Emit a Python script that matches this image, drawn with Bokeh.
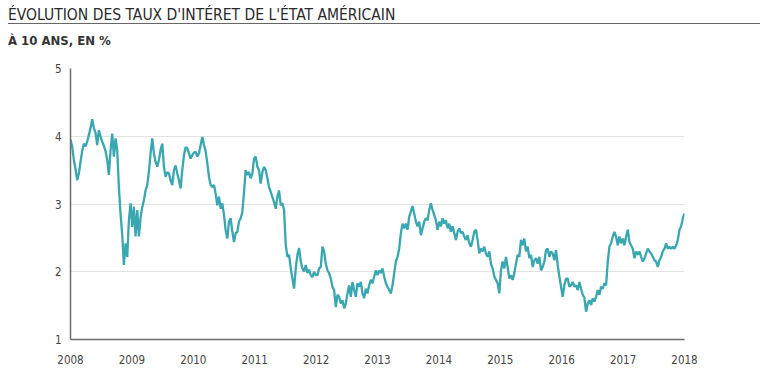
import numpy as np
from bokeh.plotting import figure
from bokeh.models import Range1d, FixedTicker, Div
from bokeh.layouts import column
from bokeh.embed import file_html
from bokeh.resources import INLINE

title_text = "ÉVOLUTION DES TAUX D'INTÉRET DE L'ÉTAT AMÉRICAIN"
subtitle_text = "À 10 ANS, EN %"

year_ticks = [2008, 2009, 2010, 2011, 2012, 2013, 2014, 2015, 2016, 2017, 2018]
year_labels = ["2008", "2009", "2010", "2011", "2012", "2013", "2014", "2015", "2016", "2017", "2018"]
rate_ticks = [1, 2, 3, 4, 5]
rate_labels = ["1", "2", "3", "4", "5"]

# 10-year US Treasury yield (regular ~10-day sampling)
rates_2008_2009 = [
    3.95, 3.85, 3.65, 3.52, 3.35, 3.45, 3.62, 3.78, 3.89, 3.85, 3.92, 4.02, 4.12, 4.25, 4.12, 4.05,
    3.87, 4.09, 4.00, 3.92, 3.86, 3.78, 3.65, 3.43, 3.79, 4.04, 3.70, 3.97, 3.79, 3.25, 2.85, 2.55,
    2.10, 2.42, 2.22, 2.76, 3.01, 2.66, 2.96, 2.52, 2.91, 2.52, 2.80, 2.95, 3.06, 3.20, 3.28, 3.48,
    3.75, 3.97, 3.75, 3.62, 3.55, 3.65, 3.80, 3.89, 3.55, 3.40, 3.47, 3.45, 3.35, 3.28, 3.50, 3.57,
    3.45, 3.35, 3.23, 3.50, 3.72, 3.84, 3.82, 3.75, 3.67, 3.72, 3.76, 3.77,
]
rates_2010_2011 = [
    3.70, 3.75, 3.87, 3.99, 3.87, 3.78, 3.60, 3.40, 3.28, 3.25, 3.28, 3.15, 2.98, 3.11, 2.93, 3.01,
    2.84, 2.61, 2.49, 2.74, 2.79, 2.59, 2.44, 2.57, 2.59, 2.74, 2.79, 2.88, 3.18, 3.50, 3.43, 3.47,
    3.38, 3.45, 3.67, 3.70, 3.55, 3.50, 3.30, 3.47, 3.55, 3.50, 3.38, 3.25, 3.18, 3.10, 3.03, 2.93,
    3.11, 3.20, 2.98, 3.01, 2.91, 2.40, 2.22, 2.25, 2.05, 1.90, 1.75, 2.05, 2.25, 2.35, 2.15, 2.05,
    2.00, 2.10, 1.98, 2.03, 1.95, 1.92, 2.00, 1.95,
]
rates_2012_2013 = [
    1.95, 2.05, 2.07, 2.37, 2.30, 2.12, 2.02, 1.98, 1.90, 1.78, 1.73, 1.48, 1.66, 1.63, 1.53, 1.58,
    1.46, 1.53, 1.68, 1.80, 1.63, 1.85, 1.73, 1.63, 1.83, 1.78, 1.85, 1.68, 1.61, 1.75, 1.68, 1.80,
    1.88, 1.83, 1.93, 2.02, 1.95, 2.02, 1.98, 2.05, 1.93, 1.83, 1.78, 1.73, 1.68, 1.80, 1.98, 2.15,
    2.22, 2.34, 2.57, 2.71, 2.64, 2.71, 2.62, 2.81, 2.89, 2.97, 2.86, 2.74, 2.67, 2.74, 2.54, 2.64,
    2.74, 2.79, 2.76, 2.91, 3.01, 2.91, 2.84, 2.76,
]
rates_2014_2015 = [
    2.62, 2.74, 2.67, 2.79, 2.71, 2.76, 2.64, 2.71, 2.59, 2.67, 2.57, 2.47, 2.59, 2.64, 2.57, 2.59,
    2.52, 2.47, 2.54, 2.42, 2.37, 2.47, 2.59, 2.62, 2.47, 2.27, 2.34, 2.30, 2.37, 2.27, 2.22, 2.30,
    2.12, 2.05, 1.93, 1.88, 1.83, 1.68, 2.02, 2.15, 2.05, 2.22, 2.07, 1.90, 1.95, 1.88, 1.98, 2.12,
    2.25, 2.22, 2.47, 2.39, 2.49, 2.30, 2.37, 2.20, 2.25, 2.07, 2.17, 2.20, 2.12, 2.22, 2.02, 2.07,
    2.15, 2.32, 2.34, 2.22, 2.30, 2.27, 2.17, 2.32,
]
rates_2016_2017 = [
    2.10, 1.93, 1.78, 1.63, 1.80, 1.90, 1.90, 1.78, 1.80, 1.85, 1.78, 1.80, 1.73, 1.85, 1.75, 1.66,
    1.62, 1.41, 1.53, 1.58, 1.51, 1.61, 1.56, 1.63, 1.73, 1.66, 1.78, 1.75, 1.83, 1.80, 2.15, 2.37,
    2.42, 2.52, 2.59, 2.52, 2.39, 2.52, 2.42, 2.49, 2.39, 2.52, 2.62, 2.44, 2.39, 2.34, 2.20, 2.30,
    2.25, 2.30, 2.22, 2.15, 2.20, 2.27, 2.34, 2.30, 2.27, 2.22, 2.17, 2.15, 2.07, 2.17, 2.22, 2.30,
    2.34, 2.42, 2.34, 2.37, 2.34, 2.37, 2.34, 2.39, 2.47, 2.62, 2.67, 2.79, 2.86,
]

rates = rates_2008_2009 + rates_2010_2011 + rates_2012_2013 + rates_2014_2015 + rates_2016_2017
dates = np.linspace(2008.0, 2018.0, len(rates))

TEXT = "#333333"
COND = "DejaVu Sans Condensed"

title_div = Div(
    text=f'<div style="font-family:\'{COND}\', \'DejaVu Sans\'; font-stretch:condensed; font-size:15.5px; '
         f'line-height:15px; color:#2a2a2a; height:16px; width:752px; border-bottom:1px solid #666; '
         f'white-space:nowrap;">{title_text}</div>',
    width=752, height=17, margin=(8, 0, 0, 8),
)
subtitle_div = Div(
    text=f'<div style="font-family:\'{COND}\', \'DejaVu Sans\'; font-stretch:condensed; font-size:13px; '
         f'font-weight:bold; line-height:13px; color:{TEXT}; margin-top:9px; white-space:nowrap;">'
         f'{subtitle_text}</div>',
    width=752, height=30, margin=(0, 0, 0, 8),
)

p = figure(
    frame_width=614, frame_height=271,
    min_border_left=62, min_border_right=70, min_border_top=13, min_border_bottom=30,
    x_range=Range1d(2008, 2018), y_range=Range1d(1, 5),
    output_backend="svg", toolbar_location=None, margin=(0, 0, 0, 8),
)
p.outline_line_color = None
p.background_fill_color = "white"
p.border_fill_color = "white"

p.line(dates, rates, line_color="#38a7b0", line_width=2.3)

p.xaxis.ticker = FixedTicker(ticks=year_ticks)
p.xaxis.major_label_overrides = dict(zip(year_ticks, year_labels))
p.yaxis.ticker = FixedTicker(ticks=rate_ticks)
p.yaxis.major_label_overrides = dict(zip(rate_ticks, rate_labels))

for ax in (p.xaxis[0], p.yaxis[0]):
    ax.axis_line_color = "#6b6b6b"
    ax.axis_line_width = 1.5
    ax.major_tick_line_color = None
    ax.minor_tick_line_color = None
    ax.major_tick_out = 0
    ax.major_tick_in = 0
    ax.major_label_text_font = COND
    ax.major_label_text_font_size = "11.5px"
    ax.major_label_text_color = "#444444"

p.xaxis.major_label_standoff = 15
p.yaxis.major_label_standoff = 9
p.yaxis.major_label_text_baseline = "top"

p.xgrid.grid_line_color = None
p.ygrid.grid_line_color = "#e2e2e2"
p.ygrid.grid_line_width = 1.2

layout = column(title_div, subtitle_div, p, spacing=0)
open("out.html", "w").write(file_html(layout, INLINE))
